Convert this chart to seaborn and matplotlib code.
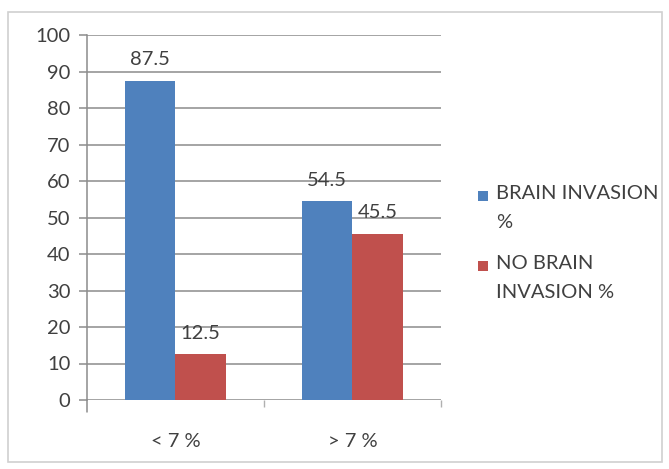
import matplotlib
matplotlib.use("Agg")
import matplotlib.pyplot as plt
import seaborn as sns
import pandas as pd
from matplotlib.patches import Rectangle
from matplotlib.legend_handler import HandlerPatch

categories = ["< 7 %", "> 7 %"]
series = ["BRAIN INVASION\n%", "NO BRAIN\nINVASION %"]
brain_invasion = [87.5, 54.5]
no_brain_invasion = [12.5, 45.5]
yticks = [0, 10, 20, 30, 40, 50, 60, 70, 80, 90, 100]

df = pd.DataFrame({
    "cat": categories * 2,
    "series": [series[0]] * 2 + [series[1]] * 2,
    "value": brain_invasion + no_brain_invasion,
})

sns.set_theme(style="white")
plt.rcParams["font.family"] = ["Lato", "DejaVu Sans"]
TXT = "#404040"
FS = 14.5

fig = plt.figure(figsize=(6.69, 4.69), dpi=100)
ax = fig.add_axes([87/669, 1 - 400/469, (441-87)/669, (400-35)/469])

sns.barplot(data=df, x="cat", y="value", hue="series", order=categories,
            hue_order=series, palette=["#4F81BD", "#C0504D"], width=0.57,
            saturation=1, linewidth=0, ax=ax, legend=True)

ax.set_xlim(-0.5, 1.5)
ax.set_ylim(0, 100)
ax.set_yticks(yticks)
ax.set_yticklabels([str(t) for t in yticks], fontsize=FS, color=TXT)
ax.grid(axis="y", color="#8c8c8c", linewidth=1.1)
ax.set_axisbelow(True)
ax.set_xlabel("")
ax.set_ylabel("")
for s in ["top", "right", "bottom"]:
    ax.spines[s].set_visible(False)
ax.spines["left"].set_color("#8c8c8c")
ax.spines["left"].set_linewidth(1.1)
ax.plot([0, 0], [0, -0.033], transform=ax.transAxes, color="#8c8c8c",
        lw=1.1, clip_on=False)

ax.tick_params(axis="y", length=6, color="#8c8c8c", width=1.1, pad=6,
               left=True)
ax.tick_params(axis="x", length=0, pad=24, labelsize=FS, labelcolor=TXT)
ax.set_xticks([0, 1])
ax.set_xticklabels(categories)
ax.set_xticks([0.5, 1.5], minor=True)
ax.tick_params(axis="x", which="minor", length=5, color="#b0b0b0",
               width=1, bottom=True, pad=0)

for c in ax.containers:
    ax.bar_label(c, labels=[f"{v:.1f}" for v in c.datavalues], padding=9,
                 fontsize=FS, color=TXT)


def square(legend, orig_handle, xdescent, ydescent, width, height, fontsize):
    s = 0.5 * fontsize
    return Rectangle((-xdescent, -ydescent + height - s - 0.28 * fontsize), s, s)


handles, labels = ax.get_legend_handles_labels()
leg = ax.legend(handles, labels, loc="center left",
                bbox_to_anchor=(1.082, 0.43), borderaxespad=0,
                frameon=False, fontsize=FS, handlelength=0.55,
                handleheight=1.0, handletextpad=0.35, labelspacing=1.2,
                labelcolor=TXT,
                handler_map={Rectangle: HandlerPatch(patch_func=square)})
for t in leg.get_texts():
    t.set_linespacing(1.85)
for col in leg._legend_handle_box.get_children():
    for item in col.get_children():
        item.align = "top"

fig.patches.append(Rectangle((8/669, 1 - 462/469), 654/669, 450/469,
                             transform=fig.transFigure, fill=False,
                             edgecolor="#d0d0d0", linewidth=1.2))

fig.savefig("out.png", dpi=100)
